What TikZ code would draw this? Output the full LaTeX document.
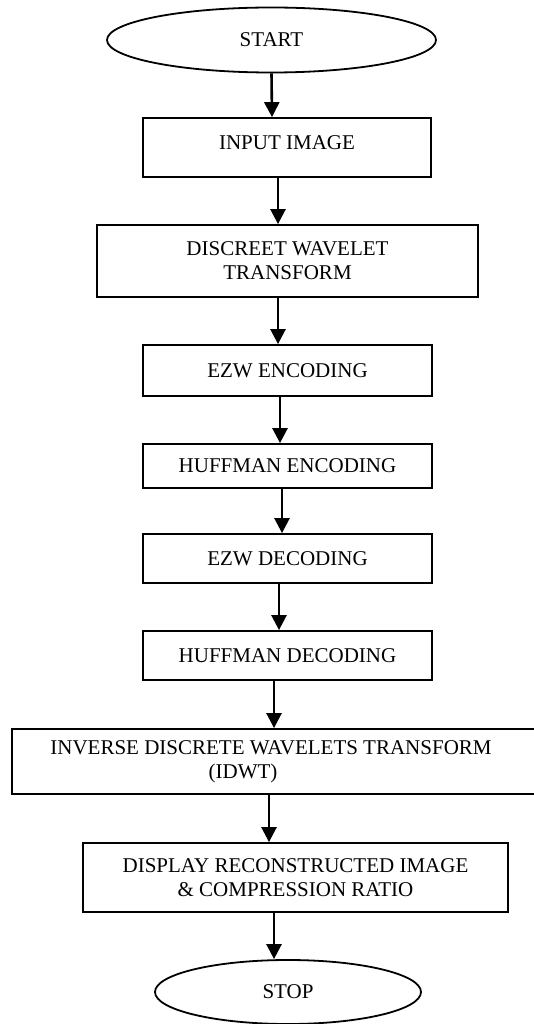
\documentclass[tikz,border=0pt]{standalone}
\usepackage{fontspec}
\setmainfont{Liberation Serif}
\usetikzlibrary{shapes.geometric,arrows.meta}
\tikzset{
  flowtext/.style={font=\fontsize{21pt}{24pt}\selectfont, align=center, inner sep=0pt},
  stepbox/.style={flowtext, draw, line width=1.8pt, rectangle},
  termnode/.style={flowtext, draw, line width=1.8pt, ellipse},
  arr/.style={line width=2.6pt, -{Triangle[width=15pt,length=15pt]}}
}
\begin{document}
\begin{tikzpicture}[x=1pt,y=-1pt]
\useasboundingbox (0,0) rectangle (533,1024);

% process chain, top to bottom
\node[termnode, minimum width=329, minimum height=65] (start) at (271.5,40) {START};
\node[stepbox, minimum width=288, minimum height=59, text depth=10pt] (input) at (287,147.5) {INPUT IMAGE};
\node[stepbox, minimum width=381, minimum height=72] (dwt) at (287.5,261) {DISCREET WAVELET\\TRANSFORM};
\node[stepbox, minimum width=289, minimum height=51] (ezwe) at (287.5,370.5) {EZW ENCODING};
\node[stepbox, minimum width=289, minimum height=44] (huffe) at (287.5,466) {HUFFMAN ENCODING};
\node[stepbox, minimum width=289, minimum height=49] (ezwd) at (287.5,558.5) {EZW DECODING};
\node[stepbox, minimum width=289, minimum height=49] (huffd) at (287.5,655.5) {HUFFMAN DECODING};
\node[stepbox, minimum width=538, minimum height=65] (idwt) at (281,761.5)
  {INVERSE DISCRETE WAVELETS TRANSFORM\hspace*{20pt}\\(IDWT)\hspace*{76pt}};
\node[stepbox, minimum width=425, minimum height=69] (disp) at (295.5,877.5)
  {DISPLAY RECONSTRUCTED IMAGE\\\& COMPRESSION RATIO};
\node[termnode, minimum width=266, minimum height=64] (stop) at (288,992) {STOP};

% connectors
\draw[arr] (start.south) -- (272,0 |- input.north);
\draw[arr] (278,0 |- input.south) -- (278,0 |- dwt.north);
\draw[arr] (278,0 |- dwt.south) -- (278,0 |- ezwe.north);
\draw[arr] (280,0 |- ezwe.south) -- (280,0 |- huffe.north);
\draw[arr] (282,0 |- huffe.south) -- (282,0 |- ezwd.north);
\draw[arr] (279,0 |- ezwd.south) -- (279,0 |- huffd.north);
\draw[arr] (274,0 |- huffd.south) -- (274,0 |- idwt.north);
\draw[arr] (269,0 |- idwt.south) -- (269,0 |- disp.north);
\draw[arr] (274,0 |- disp.south) -- (274,0 |- stop.north);
\end{tikzpicture}
\end{document}
